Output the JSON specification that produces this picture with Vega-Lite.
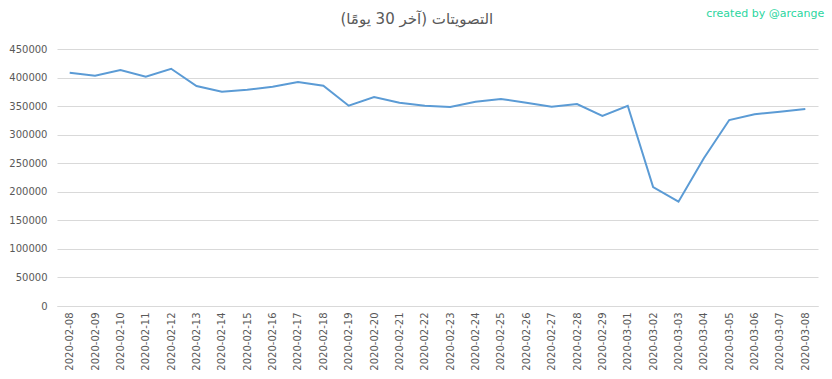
{
  "$schema": "https://vega.github.io/schema/vega-lite/v6.json",
  "autosize": {"type": "none"},
  "width": 761,
  "height": 257,
  "padding": {"left": 57, "top": 49, "right": 14, "bottom": 73},
  "background": "white",
  "config": {
    "view": {"stroke": null},
    "font": "DejaVu Sans",
    "axisX": {
      "title": null,
      "labelAngle": -90,
      "labelFontSize": 10,
      "labelColor": "#595959",
      "ticks": false,
      "labelPadding": 6,
      "labelOverlap": false,
      "domainColor": "#d9d9d9",
      "grid": false
    },
    "axisY": {
      "title": null,
      "format": "d",
      "labelFontSize": 10,
      "labelColor": "#595959",
      "labelOverlap": false,
      "ticks": false,
      "domain": false,
      "labelPadding": 10,
      "gridColor": "#d9d9d9"
    }
  },
  "datasets": {
    "votes": [
      {"date": "2020-02-08", "votes": 408300},
      {"date": "2020-02-09", "votes": 403000},
      {"date": "2020-02-10", "votes": 413200},
      {"date": "2020-02-11", "votes": 401400},
      {"date": "2020-02-12", "votes": 415400},
      {"date": "2020-02-13", "votes": 385200},
      {"date": "2020-02-14", "votes": 375200},
      {"date": "2020-02-15", "votes": 378700},
      {"date": "2020-02-16", "votes": 384000},
      {"date": "2020-02-17", "votes": 392200},
      {"date": "2020-02-18", "votes": 385700},
      {"date": "2020-02-19", "votes": 350700},
      {"date": "2020-02-20", "votes": 366000},
      {"date": "2020-02-21", "votes": 356000},
      {"date": "2020-02-22", "votes": 350500},
      {"date": "2020-02-23", "votes": 348500},
      {"date": "2020-02-24", "votes": 357700},
      {"date": "2020-02-25", "votes": 362400},
      {"date": "2020-02-26", "votes": 356000},
      {"date": "2020-02-27", "votes": 349000},
      {"date": "2020-02-28", "votes": 353700},
      {"date": "2020-02-29", "votes": 333000},
      {"date": "2020-03-01", "votes": 350700},
      {"date": "2020-03-02", "votes": 208300},
      {"date": "2020-03-03", "votes": 182600},
      {"date": "2020-03-04", "votes": 258600},
      {"date": "2020-03-05", "votes": 325600},
      {"date": "2020-03-06", "votes": 335600},
      {"date": "2020-03-07", "votes": 340200},
      {"date": "2020-03-08", "votes": 344900}
    ],
    "credit": [{"label": "created by @arcange"}],
    "heading": [{"label": "التصويتات (آخر 30 يومًا)"}]
  },
  "layer": [
    {
      "data": {"name": "votes"},
      "mark": {"type": "line", "color": "#5b9bd5", "strokeWidth": 2},
      "encoding": {
        "x": {
          "field": "date",
          "type": "ordinal",
          "scale": {"type": "point", "padding": 0.5}
        },
        "y": {
          "field": "votes",
          "type": "quantitative",
          "scale": {"domain": [0, 450000], "nice": false},
          "axis": {"values": [0, 50000, 100000, 150000, 200000, 250000, 300000, 350000, 400000, 450000]}
        }
      }
    },
    {
      "data": {"name": "credit"},
      "mark": {"type": "text", "color": "#2bd6a0", "fontSize": 11, "align": "center", "baseline": "middle", "clip": false, "dx": 36},
      "encoding": {
        "x": {"datum": "2020-03-05", "type": "ordinal"},
        "y": {"datum": 511000, "type": "quantitative", "axis": {"values": [0, 50000, 100000, 150000, 200000, 250000, 300000, 350000, 400000, 450000]}},
        "text": {"field": "label"}
      }
    },
    {
      "data": {"name": "heading"},
      "mark": {"type": "text", "color": "#595959", "fontSize": 15, "align": "center", "baseline": "middle", "clip": false, "dx": -8, "font": "DejaVu Sans"},
      "encoding": {
        "x": {"datum": "2020-02-22", "type": "ordinal"},
        "y": {"datum": 502000, "type": "quantitative", "axis": {"values": [0, 50000, 100000, 150000, 200000, 250000, 300000, 350000, 400000, 450000]}},
        "text": {"field": "label"}
      }
    }
  ]
}
